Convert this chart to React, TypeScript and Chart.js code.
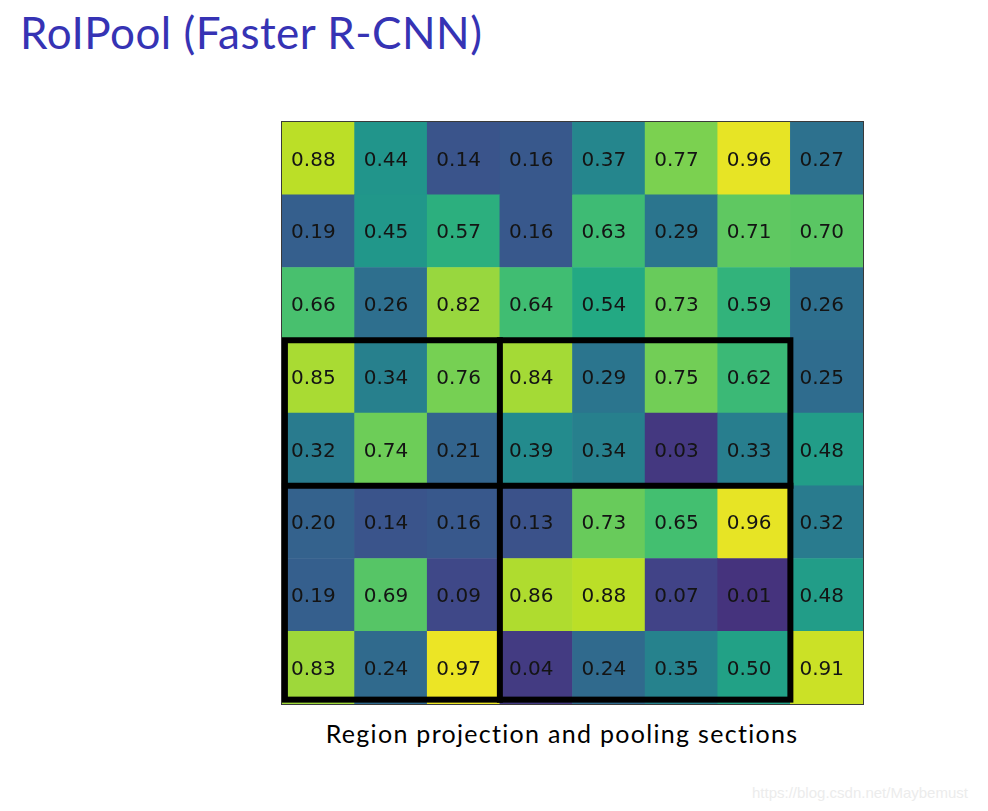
import React, { useEffect, useRef } from "react";
import { Chart, registerables } from "chart.js";

Chart.register(...registerables);

// ---- Text ----
const TITLE = "RoIPool (Faster R-CNN)";
const CAPTION = "Region projection and pooling sections";
const WATERMARK = "https://blog.csdn.net/Maybemust";

// ---- Data (rows top to bottom) ----
const COLUMNS = ["c0", "c1", "c2", "c3", "c4", "c5", "c6", "c7"];
const ROW_0 = [0.88, 0.44, 0.14, 0.16, 0.37, 0.77, 0.96, 0.27];
const ROW_1 = [0.19, 0.45, 0.57, 0.16, 0.63, 0.29, 0.71, 0.7];
const ROW_2 = [0.66, 0.26, 0.82, 0.64, 0.54, 0.73, 0.59, 0.26];
const ROW_3 = [0.85, 0.34, 0.76, 0.84, 0.29, 0.75, 0.62, 0.25];
const ROW_4 = [0.32, 0.74, 0.21, 0.39, 0.34, 0.03, 0.33, 0.48];
const ROW_5 = [0.2, 0.14, 0.16, 0.13, 0.73, 0.65, 0.96, 0.32];
const ROW_6 = [0.19, 0.69, 0.09, 0.86, 0.88, 0.07, 0.01, 0.48];
const ROW_7 = [0.83, 0.24, 0.97, 0.04, 0.24, 0.35, 0.5, 0.91];
const ROWS = [ROW_0, ROW_1, ROW_2, ROW_3, ROW_4, ROW_5, ROW_6, ROW_7];

// Region of interest (in cell-index units) and pooling split lines
const REGION_COL_FROM = 0;
const REGION_COL_TO = 6;
const REGION_ROW_FROM = 3;
const REGION_ROW_TO = 7;
const SPLIT_AFTER_COL = 2;
const SPLIT_AFTER_ROW = 4;

// colour normalisation
const COLOR_MIN = -0.16;
const COLOR_MAX = 1.0;

const VIRIDIS = [
  "#440154", "#482475", "#414487", "#355f8d", "#2a788e", "#21918c",
  "#22a884", "#44bf70", "#7ad151", "#bddf26", "#fde725",
];

function hexToRgb(h: string) {
  return [parseInt(h.slice(1, 3), 16), parseInt(h.slice(3, 5), 16), parseInt(h.slice(5, 7), 16)];
}

function viridis(v: number) {
  let t = (v - COLOR_MIN) / (COLOR_MAX - COLOR_MIN);
  t = Math.max(0, Math.min(1, t));
  const pos = t * (VIRIDIS.length - 1);
  const i = Math.min(VIRIDIS.length - 2, Math.floor(pos));
  const f = pos - i;
  const a = hexToRgb(VIRIDIS[i]);
  const b = hexToRgb(VIRIDIS[i + 1]);
  const c = a.map((av, k) => Math.round(av + (b[k] - av) * f));
  return `rgb(${c[0]},${c[1]},${c[2]})`;
}

const N = ROWS.length;

const overlayPlugin = {
  id: "heatOverlay",
  afterDatasetsDraw(chart: any) {
    const { ctx, chartArea, scales } = chart;
    const x = scales.x;
    const y = scales.y;
    const cw = x.getPixelForValue(1) - x.getPixelForValue(0);
    ctx.save();
    // cell labels
    ctx.font = '20px "DejaVu Sans"';
    ctx.fillStyle = "#141414";
    ctx.textAlign = "left";
    ctx.textBaseline = "alphabetic";
    chart.data.datasets.forEach((ds: any, di: number) => {
      const meta = chart.getDatasetMeta(di);
      meta.data.forEach((el: any, j: number) => {
        const p = el.getProps(["x", "y", "base"], true);
        const cy = (p.y + p.base) / 2;
        ctx.fillText(ds.values[j].toFixed(2), p.x - cw * 0.375, cy + 7.3);
      });
    });
    // frame
    ctx.strokeStyle = "#3a3a3a";
    ctx.lineWidth = 1;
    ctx.strokeRect(chartArea.left - 0.5, chartArea.top - 0.5, chartArea.width + 1, chartArea.height + 1);

    // region + pooling sections
    const xl = x.getPixelForValue(REGION_COL_FROM - 0.46);
    const xr = x.getPixelForValue(REGION_COL_TO + 0.5);
    const xs = x.getPixelForValue(SPLIT_AFTER_COL + 0.5);
    const yt = y.getPixelForValue(N - REGION_ROW_FROM);
    const yb = y.getPixelForValue(N - REGION_ROW_TO - 1 + 0.06);
    const ys = y.getPixelForValue(N - SPLIT_AFTER_ROW - 1);
    ctx.strokeStyle = "#000";
    ctx.lineWidth = 6;
    ctx.lineCap = "square";
    ctx.strokeRect(xl, yt, xr - xl, yb - yt);
    ctx.beginPath();
    ctx.moveTo(xs, yt);
    ctx.lineTo(xs, yb);
    ctx.moveTo(xl, ys);
    ctx.lineTo(xr, ys);
    ctx.stroke();
    ctx.restore();
  },
};

export default function App() {
  const canvasRef = useRef<HTMLCanvasElement>(null);

  useEffect(() => {
    if (!canvasRef.current) return;
    // stacked from bottom: first dataset = bottom row
    const datasets = ROWS.slice()
      .reverse()
      .map((row, k) => ({
        label: `row ${N - 1 - k}`,
        data: row.map(() => 1),
        values: row,
        backgroundColor: row.map((v) => viridis(v)),
        borderWidth: 0,
        categoryPercentage: 1,
        barPercentage: 1,
      }));
    const chart = new Chart(canvasRef.current, {
      type: "bar",
      data: { labels: COLUMNS, datasets: datasets as any },
      options: {
        animation: false,
        responsive: false,
        devicePixelRatio: 1,
        events: [],
        layout: { padding: 1 },
        plugins: { legend: { display: false }, tooltip: { enabled: false }, title: { display: false } },
        scales: {
          x: { display: false, stacked: true, offset: true },
          y: { display: false, stacked: true, min: 0, max: N },
        },
      },
      plugins: [overlayPlugin],
    });
    return () => chart.destroy();
  }, []);

  return (
    <div style={{ position: "fixed", left: 0, top: 0, width: 988, height: 811, background: "#fff", overflow: "hidden" }}>
      <div
        style={{
          position: "absolute",
          left: 20,
          top: 11,
          font: '44px Lato',
          lineHeight: "43px",
          letterSpacing: "0.5px",
          color: "#3633b4",
          whiteSpace: "nowrap",
        }}
      >
        {TITLE}
      </div>
      <canvas
        ref={canvasRef}
        width={583}
        height={584}
        style={{ position: "absolute", left: 281, top: 121, width: 583, height: 584 }}
      />
      <div
        style={{
          position: "absolute",
          left: 262,
          width: 600,
          top: 721,
          font: '25px Lato',
          lineHeight: "24px",
          letterSpacing: "1.3px",
          color: "#000",
          textAlign: "center",
          whiteSpace: "nowrap",
        }}
      >
        {CAPTION}
      </div>
      <div
        style={{
          position: "absolute",
          left: 752,
          top: 785,
          font: '15px "Liberation Sans"',
          lineHeight: "15px",
          color: "#ececec",
          whiteSpace: "nowrap",
        }}
      >
        {WATERMARK}
      </div>
    </div>
  );
}
